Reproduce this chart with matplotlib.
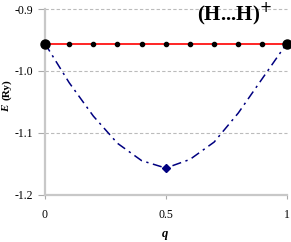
import numpy as np
import matplotlib
matplotlib.use("Agg")
import matplotlib.pyplot as plt

# data
q = [0.0, 0.1, 0.2, 0.3, 0.4, 0.5, 0.6, 0.7, 0.8, 0.9, 1.0]
e_flat = [-0.956] * 11
e_curve = [-0.956, -1.019, -1.073, -1.117, -1.145, -1.157, -1.143, -1.115, -1.068, -1.012, -0.956]
yticks = [-0.9, -1.0, -1.1, -1.2]
ylabels = ["-0.9", "-1.0", "-1.1", "-1.2"]
xticks = [0, 0.5, 1]
xlabels = ["0", "0.5", "1"]

plt.rcParams['font.family'] = ['Liberation Serif', 'DejaVu Serif']

fig = plt.figure(figsize=(2.91, 2.42), dpi=100)
ax = fig.add_axes([0.1546, 0.1955, 0.8304, 0.7673])

ax.plot(q, e_curve, color='#000080', lw=1.1, ls=(0, (6, 3, 1.5, 3)), zorder=3)
ax.plot([q[5]], [e_curve[5]], marker='D', color='#000080', ms=4, zorder=4)

ax.plot(q, e_flat, color='red', lw=1.2, zorder=5)
ax.plot(q[1:-1], e_flat[1:-1], 'o', color='black', ms=3, zorder=6, clip_on=False)
ax.plot([q[0], q[-1]], [e_flat[0], e_flat[-1]], 'o', color='black', ms=6.5, zorder=7, clip_on=False)

ax.set_xlim(0, 1)
ax.set_ylim(-1.2, -0.9)
ax.set_yticks(yticks)
ax.set_yticklabels(ylabels)
ax.set_xticks(xticks)
ax.set_xticklabels(xlabels)

for y in [-0.9, -1.0, -1.1]:
    ax.axhline(y, color='#bbbbbb', lw=0.8, ls=(0, (3, 2)), zorder=1, clip_on=False)

for s in ['top', 'right']:
    ax.spines[s].set_visible(False)
for s in ['left', 'bottom']:
    ax.spines[s].set_color('#c8c8c8')
    ax.spines[s].set_linewidth(1.6)

ax.tick_params(axis='both', direction='out', width=0.8, color='#aaaaaa', labelsize=8.5)
ax.tick_params(axis='y', length=5, pad=3.5)
ax.tick_params(axis='x', length=3, pad=7)

# axis titles
fig.text(0.022, 0.63, '(Ry)', rotation=90, fontsize=8, fontweight='bold',
         ha='center', va='center')
fig.text(0.022, 0.553, 'E', rotation=90, fontsize=8, fontweight='bold', style='italic',
         ha='center', va='center')
fig.text(0.567, 0.035, 'q', fontsize=9, fontweight='bold', style='italic',
         ha='center', va='center')

fig.text(0.807, 0.94, '(H...H)$^{+}$', fontsize=15, fontweight='bold',
         ha='center', va='center')

fig.savefig('out.png', dpi=100)
